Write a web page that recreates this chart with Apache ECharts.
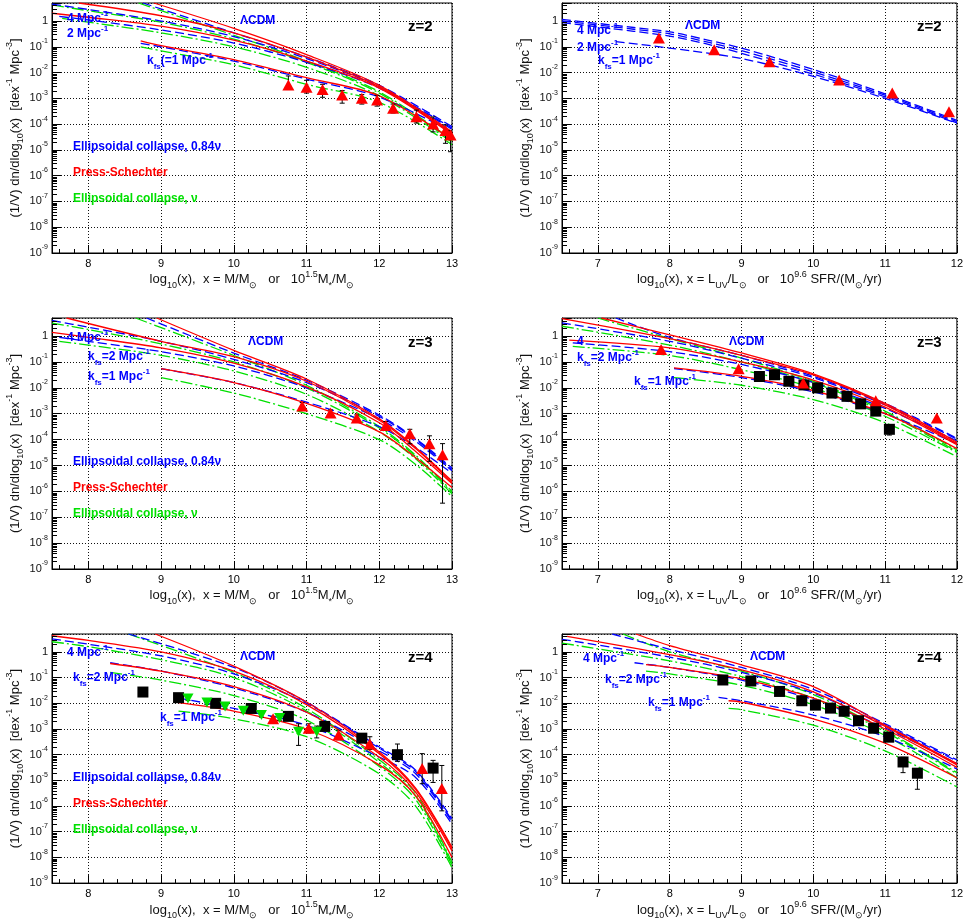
<!DOCTYPE html>
<html>
<head>
<meta charset="utf-8">
<script src="https://cdn.jsdelivr.net/npm/echarts@6/dist/echarts.min.js"></script>
<style>
  html, body { margin: 0; padding: 0; background: #fff; }
  #chart { width: 966px; height: 921px; }
</style>
</head>
<body>
<div id="chart"></div>
<script>
// ---- axis ranges -------------------------------------------------------
const MASS_RANGE = [7.5, 13];
const UV_RANGE = [6.5, 12];
const DENSITY_RANGE = [1e-9, 5];

// ---- model curves: [log10(x), (1/V) dn/dlog10(x)] ----------------------
// keys: lcdm = ΛCDM, k4/k2/k1 = free-streaming cut-off k_fs = 4, 2, 1 Mpc^-1
// z = 2, halo mass
const z2MassPS = {
  lcdm: [[8.9, 5], [10, 0.52], [11, 0.05], [12, 3.2e-3], [13, 5e-5]],
  k4: [[7.87, 5], [9, 1.6], [10, 0.35], [11, 0.04], [12, 2.8e-3], [13, 4.5e-5]],
  k2: [[7.5, 2.0], [8, 1.4], [9, 0.63], [10, 0.18], [11, 0.028], [12, 2.5e-3], [13, 4e-5]],
  k1: [[8.72, 0.17], [9, 0.11], [10, 0.032], [11, 6.3e-3], [12, 1.26e-3], [13, 2.5e-5]]
};
const z2MassEC84 = {
  lcdm: [[8.75, 5], [10, 0.35], [11, 0.04], [12, 3.2e-3], [13, 8e-5]],
  k4: [[7.5, 4.5], [8, 2.8], [9, 1.0], [10, 0.25], [11, 0.035], [12, 2.8e-3], [13, 7e-5]],
  k2: [[7.6, 1.5], [8, 1.1], [9, 0.45], [10, 0.14], [11, 0.025], [12, 2.5e-3], [13, 6.3e-5]],
  k1: [[8.72, 0.135], [9, 0.1], [10, 0.028], [11, 5.6e-3], [12, 1.12e-3], [13, 5e-5]]
};
const z2MassECnu = {
  lcdm: [[8.69, 5], [10, 0.28], [11, 0.028], [12, 1.8e-3], [13, 2.5e-5]],
  k4: [[7.5, 4.2], [8, 2.5], [9, 0.9], [10, 0.2], [11, 0.025], [12, 1.6e-3], [13, 2.2e-5]],
  k2: [[7.64, 1.26], [8, 0.9], [9, 0.35], [10, 0.1], [11, 0.016], [12, 1.26e-3], [13, 2e-5]],
  k1: [[8.72, 0.1], [9, 0.07], [10, 0.02], [11, 3.5e-3], [12, 7e-4], [13, 1.6e-5]]
};
// z = 2, UV luminosity
const z2UvEC84 = {
  lcdm: [[6.5, 1.15], [7.5, 0.56], [8, 0.38], [8.5, 0.19], [9, 0.089], [10, 0.0132], [11, 1.5e-3], [12, 1.41e-4]],
  k4: [[6.5, 1.0], [7.5, 0.48], [8, 0.32], [8.5, 0.158], [9, 0.071], [10, 0.0107], [11, 1.32e-3], [12, 1.26e-4]],
  k2: [[6.5, 0.87], [7.5, 0.4], [8, 0.26], [8.5, 0.132], [9, 0.056], [10, 8.7e-3], [11, 1.15e-3], [12, 1.12e-4]],
  k1: [[7.25, 0.16], [8, 0.089], [9, 0.035], [10, 7.1e-3], [11, 1e-3], [12, 1.07e-4]]
};
// z = 3, halo mass
const z3MassPS = {
  lcdm: [[8.94, 5], [10, 0.28], [11, 0.022], [12, 6.3e-4], [12.5, 5e-5], [13, 2.5e-6]],
  k4: [[7.7, 5], [9, 0.63], [10, 0.16], [11, 0.018], [12, 5.6e-4], [12.5, 4.5e-5], [13, 2.2e-6]],
  k2: [[7.5, 1.4], [8, 0.9], [9, 0.35], [10, 0.09], [11, 0.011], [12, 4.5e-4], [12.5, 3.5e-5], [13, 2e-6]],
  k1: [[9, 0.055], [10, 0.016], [11, 2.5e-3], [12, 2e-4], [12.5, 2e-5], [13, 1.4e-6]]
};
const z3MassEC84 = {
  lcdm: [[8.8, 5], [10, 0.22], [11, 0.02], [12, 8.9e-4], [12.5, 1.1e-4], [13, 8e-6]],
  k4: [[7.5, 4], [8, 2.2], [9, 0.63], [10, 0.126], [11, 0.016], [12, 7.9e-4], [12.5, 1e-4], [13, 7e-6]],
  k2: [[7.6, 0.9], [8, 0.63], [9, 0.25], [10, 0.07], [11, 0.01], [12, 6.3e-4], [12.5, 8.5e-5], [13, 6.3e-6]],
  k1: [[9, 0.055], [10, 0.016], [11, 2.8e-3], [12, 3.2e-4], [12.5, 5e-5], [13, 5e-6]]
};
const z3MassECnu = {
  lcdm: [[8.65, 5], [10, 0.178], [11, 0.0126], [12, 3.2e-4], [12.5, 2.5e-5], [13, 1e-6]],
  k4: [[7.5, 3.2], [8, 1.8], [9, 0.5], [10, 0.1], [11, 0.01], [12, 2.8e-4], [12.5, 2.2e-5], [13, 9e-7]],
  k2: [[7.6, 0.63], [8, 0.45], [9, 0.18], [10, 0.045], [11, 5.6e-3], [12, 2e-4], [12.5, 1.8e-5], [13, 8e-7]],
  k1: [[9, 0.025], [10, 6.3e-3], [11, 1e-3], [12, 1e-4], [12.5, 1.1e-5], [13, 6.3e-7]]
};
// z = 3, UV luminosity
const z3UvPS = {
  lcdm: [[7.05, 5], [8, 1.12], [9, 0.224], [10, 0.035], [11, 2.5e-3], [12, 7.9e-5]],
  k4: [[6.5, 4.7], [8, 0.79], [9, 0.178], [10, 0.0316], [11, 2.2e-3], [12, 7e-5]],
  k2: [[6.6, 0.7], [8, 0.35], [9, 0.1], [10, 0.02], [11, 1.8e-3], [12, 6.3e-5]],
  k1: [[8.06, 0.059], [9, 0.028], [10, 7.9e-3], [11, 1e-3], [12, 4.5e-5]]
};
const z3UvEC84 = {
  lcdm: [[7.25, 5], [8, 0.89], [9, 0.178], [10, 0.028], [11, 2.5e-3], [12, 1.12e-4]],
  k4: [[6.5, 3.24], [8, 0.63], [9, 0.14], [10, 0.025], [11, 2.2e-3], [12, 1.05e-4]],
  k2: [[6.65, 0.55], [8, 0.25], [9, 0.08], [10, 0.016], [11, 1.6e-3], [12, 8.9e-5]],
  k1: [[8.06, 0.056], [9, 0.025], [10, 7e-3], [11, 1e-3], [12, 7e-5]]
};
const z3UvECnu = {
  lcdm: [[7.0, 5], [8, 0.8], [9, 0.14], [10, 0.0178], [11, 1.26e-3], [12, 4e-5]],
  k4: [[6.5, 2.4], [8, 0.45], [9, 0.1], [10, 0.016], [11, 1.1e-3], [12, 3.5e-5]],
  k2: [[6.65, 0.4], [8, 0.178], [9, 0.05], [10, 0.01], [11, 8e-4], [12, 3.2e-5]],
  k1: [[8.06, 0.025], [9, 0.0126], [10, 3.5e-3], [11, 4.5e-4], [12, 2.2e-5]]
};
// z = 4, halo mass
const z4MassPS = {
  lcdm: [[8.92, 5], [10, 0.28], [11, 0.0112], [12, 1.26e-4], [12.5, 5e-6], [13, 2.5e-8]],
  k4: [[7.5, 4.27], [8, 2.8], [9, 1.0], [10, 0.178], [11, 8.9e-3], [12, 1.1e-4], [12.5, 4.5e-6], [13, 2.2e-8]],
  k2: [[8.3, 0.355], [9, 0.178], [10, 0.045], [11, 4.5e-3], [12, 7.9e-5], [12.5, 3.5e-6], [13, 1.8e-8]],
  k1: [[9.24, 0.0107], [10, 5e-3], [11, 1e-3], [12, 4e-5], [12.5, 2.5e-6], [13, 1e-8]]
};
const z4MassEC84 = {
  lcdm: [[8.55, 5], [10, 0.25], [11, 0.0112], [12, 2e-4], [12.5, 2.5e-5], [13, 3.2e-7]],
  k4: [[7.5, 3.2], [8, 2.0], [9, 0.7], [10, 0.14], [11, 0.01], [12, 1.8e-4], [12.5, 2.2e-5], [13, 2.8e-7]],
  k2: [[8.3, 0.38], [9, 0.18], [10, 0.04], [11, 4.5e-3], [12, 1.4e-4], [12.5, 1.8e-5], [13, 2.5e-7]],
  k1: [[9.24, 0.016], [10, 6.3e-3], [11, 1.4e-3], [12, 8e-5], [12.5, 1.3e-5], [13, 2e-7]]
};
const z4MassECnu = {
  lcdm: [[8.55, 5], [10, 0.158], [11, 6.3e-3], [12, 6.3e-5], [12.5, 3.2e-6], [13, 6.3e-9]],
  k4: [[7.5, 2.5], [8, 1.6], [9, 0.5], [10, 0.1], [11, 5e-3], [12, 5e-5], [12.5, 2.5e-6], [13, 5.6e-9]],
  k2: [[8.3, 0.16], [9, 0.08], [10, 0.02], [11, 2.2e-3], [12, 3.5e-5], [12.5, 1.8e-6], [13, 5e-9]],
  k1: [[9.24, 5e-3], [10, 2.5e-3], [11, 5e-4], [12, 1.8e-5], [12.5, 1e-6], [13, 4e-9]]
};
// z = 4, UV luminosity
const z4UvPS = {
  lcdm: [[7.53, 5], [8, 1.78], [9, 0.316], [10, 0.0447], [11, 1.41e-3], [12, 4.5e-5]],
  k4: [[6.57, 4.07], [8, 0.79], [9, 0.2], [10, 0.028], [11, 1.26e-3], [12, 4e-5]],
  k2: [[7.67, 0.32], [8, 0.25], [9, 0.089], [10, 0.0158], [11, 1e-3], [12, 3.2e-5]],
  k1: [[8.82, 0.0126], [9, 0.0112], [10, 2.5e-3], [11, 2.8e-4], [12, 1.26e-5]]
};
const z4UvEC84 = {
  lcdm: [[7.2, 5], [8, 1.26], [9, 0.25], [10, 0.035], [11, 1.6e-3], [12, 6.3e-5]],
  k4: [[6.5, 3.1], [8, 0.63], [9, 0.16], [10, 0.025], [11, 1.4e-3], [12, 5.6e-5]],
  k2: [[7.51, 0.38], [8, 0.25], [9, 0.08], [10, 0.014], [11, 1.1e-3], [12, 4.5e-5]],
  k1: [[8.68, 0.017], [9, 0.0126], [10, 3.5e-3], [11, 5e-4], [12, 2.8e-5]]
};
const z4UvECnu = {
  lcdm: [[7.35, 5], [8, 1.0], [9, 0.18], [10, 0.022], [11, 8.9e-4], [12, 2e-5]],
  k4: [[6.5, 2.2], [8, 0.45], [9, 0.11], [10, 0.016], [11, 7.9e-4], [12, 1.8e-5]],
  k2: [[7.67, 0.18], [8, 0.14], [9, 0.05], [10, 8.9e-3], [11, 5.6e-4], [12, 1.26e-5]],
  k1: [[8.82, 6.3e-3], [9, 5.6e-3], [10, 1.4e-3], [11, 1.4e-4], [12, 5.6e-6]]
};

// ---- measurements ------------------------------------------------------
const z2MassTriX = [10.75, 11.0, 11.22, 11.49, 11.76, 11.97, 12.19, 12.51, 12.74, 12.91, 12.98];
const z2MassTriY = [3.3e-3, 2.7e-3, 2.2e-3, 1.35e-3, 1.0e-3, 8.7e-4, 4.1e-4, 1.95e-4, 1.0e-4, 5.6e-5, 3.8e-5];
const z2MassTriLo = [2.2e-3, 1.6e-3, 1.1e-3, 6.5e-4, 6e-4, 5e-4, 2.7e-4, 1.1e-4, 5e-5, 1.8e-5, 8.5e-6];
const z2MassTriHi = [7.4e-3, 5e-3, 3.5e-3, 2e-3, 1.4e-3, 1.3e-3, 6e-4, 3.5e-4, 1.9e-4, 9.3e-5, 5.5e-5];

const z2UvTriX = [7.85, 8.62, 9.39, 10.36, 11.1, 11.89];
const z2UvTriY = [0.22, 0.076, 0.026, 5.2e-3, 1.6e-3, 3.0e-4];

const z3MassTriX = [10.94, 11.33, 11.69, 12.09, 12.42, 12.69, 12.87];
const z3MassTriY = [2.0e-3, 1.07e-3, 6.9e-4, 3.5e-4, 1.7e-4, 6.9e-5, 2.6e-5];
const z3MassTriLo = [1.5e-3, 8e-4, 5e-4, 2.3e-4, 6.9e-5, 1.45e-5, 3.5e-7];
const z3MassTriHi = [2.7e-3, 1.4e-3, 9e-4, 5e-4, 2.5e-4, 1.4e-4, 7e-5];

const z3UvSqX = [9.25, 9.46, 9.66, 9.87, 10.06, 10.26, 10.47, 10.66, 10.87, 11.06];
const z3UvSqY = [2.75e-2, 3.2e-2, 1.8e-2, 1.3e-2, 1.0e-2, 6.3e-3, 4.7e-3, 2.4e-3, 1.26e-3, 2.5e-4];
const z3UvSqLo = [2.4e-2, 2.8e-2, 1.5e-2, 1.1e-2, 8.5e-3, 5.3e-3, 3.9e-3, 1.9e-3, 9.5e-4, 1.5e-4];
const z3UvSqHi = [3.1e-2, 3.6e-2, 2.1e-2, 1.5e-2, 1.2e-2, 7.4e-3, 5.6e-3, 2.9e-3, 1.6e-3, 3.2e-4];
const z3UvTriX = [7.88, 8.96, 9.86, 10.87, 11.72];
const z3UvTriY = [0.3, 0.055, 0.0155, 3.2e-3, 6.8e-4];

const z4MassSqX = [8.75, 9.24, 9.75, 10.24, 10.75, 11.25, 11.76, 12.25, 12.74];
const z4MassSqY = [2.75e-2, 1.66e-2, 1.0e-2, 6.3e-3, 3.1e-3, 1.26e-3, 4.4e-4, 1.0e-4, 3.0e-5];
const z4MassSqLo = [2.2e-2, 1.4e-2, 8.5e-3, 5.3e-3, 2.6e-3, 1.0e-3, 3.4e-4, 5.5e-5, 8.3e-6];
const z4MassSqHi = [3.4e-2, 2e-2, 1.2e-2, 7.6e-3, 3.7e-3, 1.6e-3, 5.6e-4, 2.6e-4, 6e-5];
const z4MassInvX = [9.37, 9.63, 9.88, 10.13, 10.38, 10.63, 10.89, 11.14];
const z4MassInvY = [1.55e-2, 1.07e-2, 7.6e-3, 5.1e-3, 3.5e-3, 2.7e-3, 7.9e-4, 7.9e-4];
const z4MassInvLo = [1.3e-2, 9e-3, 6.4e-3, 4.3e-3, 2.9e-3, 2.2e-3, 2.3e-4, 4.5e-4];
const z4MassInvHi = [1.8e-2, 1.25e-2, 9e-3, 6e-3, 4.1e-3, 3.2e-3, 1.6e-3, 1.3e-3];
const z4MassTriX = [10.54, 11.03, 11.44, 11.87, 12.59, 12.86];
const z4MassTriY = [2.5e-3, 1.07e-3, 5.9e-4, 2.6e-4, 2.9e-5, 4.8e-6];
const z4MassTriLo = [2e-3, 7e-4, 3.8e-4, 1.6e-4, 7.4e-6, 6.5e-7];
const z4MassTriHi = [3.1e-3, 1.6e-3, 9e-4, 5e-4, 1.1e-4, 3.8e-5];

const z4UvSqX = [8.74, 9.13, 9.53, 9.84, 10.03, 10.24, 10.43, 10.63, 10.84, 11.05, 11.25, 11.45];
const z4UvSqY = [8.1e-2, 7.4e-2, 2.9e-2, 1.26e-2, 8.5e-3, 6.5e-3, 4.9e-3, 2.1e-3, 1.07e-3, 4.8e-4, 5.2e-5, 1.9e-5];
const z4UvSqLo = [7e-2, 6.4e-2, 2.5e-2, 1.1e-2, 7.3e-3, 5.6e-3, 4.2e-3, 1.8e-3, 9e-4, 4e-4, 2e-5, 4.5e-6];
const z4UvSqHi = [9.3e-2, 8.5e-2, 3.3e-2, 1.45e-2, 9.8e-3, 7.5e-3, 5.6e-3, 2.4e-3, 1.25e-3, 5.6e-4, 7.9e-5, 2.9e-5];

// ---- styling -----------------------------------------------------------
const FONT = '"Liberation Sans", Arial, Helvetica, sans-serif';
const BLUE = '#0000ff', RED = '#ff0000', GREEN = '#00e000', BLACK = '#000000';
const MODEL_STYLE = {
  ps:   { color: RED,   type: 'solid' },
  ec84: { color: BLUE,  type: [9, 4] },
  ecnu: { color: GREEN, type: [12, 3, 2, 3] }
};

// rich text styles with sub- and superscripts (both 'color' and 'fill' so they
// work for component labels and for graphic elements)
function richSet(color, size, weight) {
  const small = Math.round(size * 0.66);
  const base = { fontFamily: FONT, fontWeight: weight, color: color, fill: color };
  return {
    t:   Object.assign({}, base, { fontSize: size, lineHeight: size + 7 }),
    sub: Object.assign({}, base, { fontSize: small, verticalAlign: 'bottom' }),
    sup: Object.assign({}, base, { fontSize: small, verticalAlign: 'top' })
  };
}

const MASS_TITLE = '{t|log}{sub|10}{t|(x),  x = M/M}{sub|⊙}{t|   or   10}{sup|1.5}{t|M}{sub|*}{t|/M}{sub|⊙}';
const UV_TITLE = '{t|log}{sub|10}{t|(x), x = L}{sub|UV}{t|/L}{sub|⊙}{t|   or   10}{sup|9.6}{t| SFR/(M}{sub|⊙}{t|/yr)}';
const Y_TITLE = '{t|(1/V) dn/dlog}{sub|10}{t|(x)  [dex}{sup|-1}{t| Mpc}{sup|-3}{t|]}';

const PANELS = [
  { left: 52,  top: 3,   width: 400, height: 250, range: MASS_RANGE, title: MASS_TITLE },
  { left: 562, top: 3,   width: 399, height: 250, range: UV_RANGE,   title: UV_TITLE },
  { left: 52,  top: 318, width: 400, height: 251, range: MASS_RANGE, title: MASS_TITLE },
  { left: 562, top: 318, width: 399, height: 251, range: UV_RANGE,   title: UV_TITLE },
  { left: 52,  top: 634, width: 400, height: 251, range: MASS_RANGE, title: MASS_TITLE },
  { left: 562, top: 634, width: 399, height: 251, range: UV_RANGE,   title: UV_TITLE }
];

const dotted = { color: '#111', type: [1, 2], width: 1 };

const grids = PANELS.map(p => ({
  left: p.left, top: p.top, width: p.width, height: p.height,
  show: true, borderColor: BLACK, borderWidth: 1, backgroundColor: 'transparent'
}));

const xAxes = PANELS.map((p, i) => ({
  gridIndex: i, type: 'value', min: p.range[0], max: p.range[1],
  minInterval: 1, maxInterval: 1, splitNumber: 5,
  axisLine: { show: true, onZero: false, lineStyle: { color: BLACK, width: 1 } },
  axisTick: { show: true, inside: true, length: 8, lineStyle: { color: BLACK } },
  minorTick: { show: true, splitNumber: 5, length: 4, lineStyle: { color: BLACK } },
  minorSplitLine: { show: false },
  splitLine: { show: true, lineStyle: dotted },
  axisLabel: {
    color: BLACK, fontFamily: FONT, fontSize: 11, margin: 5,
    formatter: v => (Math.abs(v - Math.round(v)) < 1e-9 ? String(Math.round(v)) : '')
  },
  name: p.title, nameLocation: 'middle', nameGap: 12,
  nameTextStyle: { rich: richSet('#111', 13, 'normal') }
}));

const yAxes = PANELS.map((p, i) => ({
  gridIndex: i, type: 'log', logBase: 10, min: DENSITY_RANGE[0], max: DENSITY_RANGE[1],
  splitNumber: 10,
  axisLine: { show: true, onZero: false, lineStyle: { color: BLACK, width: 1 } },
  axisTick: { show: true, inside: true, length: 9, lineStyle: { color: BLACK } },
  minorTick: { show: false },
  splitLine: { show: true, lineStyle: dotted },
  axisLabel: {
    margin: 4,
    formatter: v => {
      const l = Math.log10(v), e = Math.round(l);
      if (Math.abs(l - e) > 1e-6) return '';
      return e === 0 ? '{t|1}' : '{t|10}{sup|' + e + '}';
    },
    rich: richSet('#111', 11, 'normal')
  },
  name: Y_TITLE, nameLocation: 'middle', nameRotate: 90, nameGap: 27,
  nameTextStyle: { rich: richSet('#111', 13, 'normal') }
}));

// ---- series builders ---------------------------------------------------
const series = [];

function addCurves(gi, set, model) {
  const st = MODEL_STYLE[model];
  ['lcdm', 'k4', 'k2', 'k1'].forEach(k => {
    series.push({
      type: 'line', xAxisIndex: gi, yAxisIndex: gi, data: set[k],
      symbol: 'none', showSymbol: false, smooth: 0.3,
      clip: true, silent: true, z: 2,
      lineStyle: { color: st.color, width: 1.3, type: st.type }
    });
  });
}

function addErrors(gi, xs, lo, hi) {
  series.push({
    type: 'custom', xAxisIndex: gi, yAxisIndex: gi, clip: true, silent: true, z: 3,
    data: xs.map((x, i) => [x, lo[i], hi[i]]),
    encode: { x: 0, y: [1, 2] },
    renderItem: (params, api) => {
      const x = api.value(0);
      const a = api.coord([x, api.value(2)]);
      const b = api.coord([x, api.value(1)]);
      const st = { stroke: BLACK, lineWidth: 1 };
      const cap = 2.5;
      return {
        type: 'group', children: [
          { type: 'line', shape: { x1: a[0], y1: a[1], x2: b[0], y2: b[1] }, style: st },
          { type: 'line', shape: { x1: a[0] - cap, y1: a[1], x2: a[0] + cap, y2: a[1] }, style: st },
          { type: 'line', shape: { x1: b[0] - cap, y1: b[1], x2: b[0] + cap, y2: b[1] }, style: st }
        ]
      };
    }
  });
}

const SYMBOLS = {
  tri: { symbol: 'triangle', size: [12, 11], color: RED },
  sq:  { symbol: 'rect', size: 11, color: BLACK },
  inv: { symbol: 'path://M0,0L10,0L5,9Z', size: [11, 10], color: GREEN }
};

function addMarkers(gi, xs, ys, kind) {
  const s = SYMBOLS[kind];
  series.push({
    type: 'scatter', xAxisIndex: gi, yAxisIndex: gi, z: 4, silent: true,
    data: xs.map((x, i) => [x, ys[i]]),
    symbol: s.symbol, symbolSize: s.size,
    itemStyle: { color: s.color, opacity: 1 }
  });
}

// panel 0: z=2, mass
addCurves(0, z2MassECnu, 'ecnu'); addCurves(0, z2MassEC84, 'ec84'); addCurves(0, z2MassPS, 'ps');
addErrors(0, z2MassTriX, z2MassTriLo, z2MassTriHi);
addMarkers(0, z2MassTriX, z2MassTriY, 'tri');
// panel 1: z=2, UV
addCurves(1, z2UvEC84, 'ec84');
addMarkers(1, z2UvTriX, z2UvTriY, 'tri');
// panel 2: z=3, mass
addCurves(2, z3MassECnu, 'ecnu'); addCurves(2, z3MassEC84, 'ec84'); addCurves(2, z3MassPS, 'ps');
addErrors(2, z3MassTriX, z3MassTriLo, z3MassTriHi);
addMarkers(2, z3MassTriX, z3MassTriY, 'tri');
// panel 3: z=3, UV
addCurves(3, z3UvECnu, 'ecnu'); addCurves(3, z3UvEC84, 'ec84'); addCurves(3, z3UvPS, 'ps');
addErrors(3, z3UvSqX, z3UvSqLo, z3UvSqHi);
addMarkers(3, z3UvSqX, z3UvSqY, 'sq');
addMarkers(3, z3UvTriX, z3UvTriY, 'tri');
// panel 4: z=4, mass
addCurves(4, z4MassECnu, 'ecnu'); addCurves(4, z4MassEC84, 'ec84'); addCurves(4, z4MassPS, 'ps');
addErrors(4, z4MassSqX, z4MassSqLo, z4MassSqHi);
addErrors(4, z4MassInvX, z4MassInvLo, z4MassInvHi);
addErrors(4, z4MassTriX, z4MassTriLo, z4MassTriHi);
addMarkers(4, z4MassSqX, z4MassSqY, 'sq');
addMarkers(4, z4MassInvX, z4MassInvY, 'inv');
addMarkers(4, z4MassTriX, z4MassTriY, 'tri');
// panel 5: z=4, UV
addCurves(5, z4UvECnu, 'ecnu'); addCurves(5, z4UvEC84, 'ec84'); addCurves(5, z4UvPS, 'ps');
addErrors(5, z4UvSqX, z4UvSqLo, z4UvSqHi);
addMarkers(5, z4UvSqX, z4UvSqY, 'sq');

// ---- in-panel annotations ---------------------------------------------
const graphics = [];
function label(p, dx, dy, text, color, size, weight) {
  graphics.push({
    type: 'text', x: p.left + dx, y: p.top + dy, z: 10, silent: true,
    style: { text: text, rich: richSet(color, size, weight), align: 'left', verticalAlign: 'middle', fill: color,
             font: weight + ' ' + size + 'px ' + FONT }
  });
}
const K4 = '{t|4 Mpc}{sup|-1}', K2 = '{t|2 Mpc}{sup|-1}';
const KFS2 = '{t|k}{sub|fs}{t|=2 Mpc}{sup|-1}', KFS1 = '{t|k}{sub|fs}{t|=1 Mpc}{sup|-1}';
const LCDM = '{t|ΛCDM}';

function legendTexts(p) {
  label(p, 21, 144, '{t|Ellipsoidal collapse, 0.84ν}', BLUE, 12, 'bold');
  label(p, 21, 170, '{t|Press-Schechter}', RED, 12, 'bold');
  label(p, 21, 196, '{t|Ellipsoidal collapse, ν}', GREEN, 12, 'bold');
}

let P = PANELS[0];
label(P, 15, 16, K4, BLUE, 12, 'bold');
label(P, 15, 31, K2, BLUE, 12, 'bold');
label(P, 95, 58, '{t|k}{sub|fs}{t|(=1 Mpc}{sup|-1}', BLUE, 12, 'bold');
label(P, 188, 18, LCDM, BLUE, 12, 'bold');
label(P, 356, 24, '{t|z=2}', BLACK, 15, 'bold');
legendTexts(P);

P = PANELS[1];
label(P, 15, 28, K4, BLUE, 12, 'bold');
label(P, 15, 45, K2, BLUE, 12, 'bold');
label(P, 36, 58, KFS1, BLUE, 12, 'bold');
label(P, 123, 23, LCDM, BLUE, 12, 'bold');
label(P, 355, 24, '{t|z=2}', BLACK, 15, 'bold');

P = PANELS[2];
label(P, 15, 20, K4, BLUE, 12, 'bold');
label(P, 36, 39, KFS2, BLUE, 12, 'bold');
label(P, 36, 59, KFS1, BLUE, 12, 'bold');
label(P, 196, 24, LCDM, BLUE, 12, 'bold');
label(P, 356, 25, '{t|z=3}', BLACK, 15, 'bold');
legendTexts(P);

P = PANELS[3];
label(P, 15, 24, '{t|4}', BLUE, 12, 'bold');
label(P, 15, 40, KFS2, BLUE, 12, 'bold');
label(P, 72, 64, KFS1, BLUE, 12, 'bold');
label(P, 167, 24, LCDM, BLUE, 12, 'bold');
label(P, 355, 25, '{t|z=3}', BLACK, 15, 'bold');

P = PANELS[4];
label(P, 15, 19, K4, BLUE, 12, 'bold');
label(P, 21, 44, KFS2, BLUE, 12, 'bold');
label(P, 108, 84, KFS1, BLUE, 12, 'bold');
label(P, 188, 23, LCDM, BLUE, 12, 'bold');
label(P, 356, 24, '{t|z=4}', BLACK, 15, 'bold');
legendTexts(P);

P = PANELS[5];
label(P, 21, 25, K4, BLUE, 12, 'bold');
label(P, 43, 46, KFS2, BLUE, 12, 'bold');
label(P, 86, 69, KFS1, BLUE, 12, 'bold');
label(P, 188, 23, LCDM, BLUE, 12, 'bold');
label(P, 355, 24, '{t|z=4}', BLACK, 15, 'bold');

// ---- chart ---------------------------------------------------------------
const chart = echarts.init(document.getElementById('chart'), null, { renderer: 'canvas' });
chart.setOption({
  animation: false,
  backgroundColor: '#ffffff',
  textStyle: { fontFamily: FONT },
  grid: grids,
  xAxis: xAxes,
  yAxis: yAxes,
  series: series,
  graphic: graphics
});

// logarithmic minor ticks (2..9 in each decade) placed through the y scale
const minorTicks = [];
PANELS.forEach((p, i) => {
  for (let d = -9; d <= 0; d++) {
    for (let m = 2; m <= 9; m++) {
      const v = m * Math.pow(10, d);
      if (v >= DENSITY_RANGE[1]) continue;
      const pt = chart.convertToPixel({ gridIndex: i }, [p.range[0], v]);
      const y = Math.round(pt[1]) + 0.5;
      minorTicks.push({
        type: 'line', silent: true, z: 5,
        shape: { x1: pt[0], y1: y, x2: pt[0] + 5, y2: y },
        style: { stroke: BLACK, lineWidth: 1 }
      });
    }
  }
});
chart.setOption({ graphic: graphics.concat(minorTicks) });
</script>
</body>
</html>
